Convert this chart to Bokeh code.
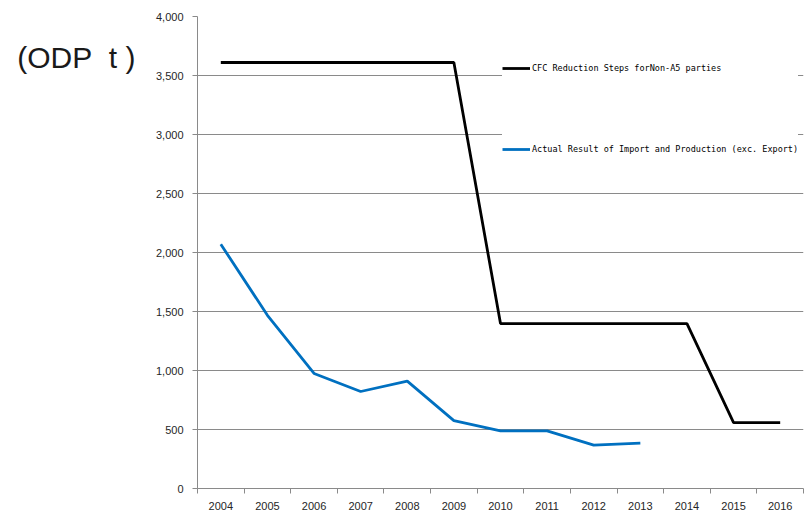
from bokeh.plotting import figure
from bokeh.models import FixedTicker, NumeralTickFormatter, Legend, LegendItem, Range1d, LinearAxis
from bokeh.embed import file_html
from bokeh.resources import INLINE

years = [2004, 2005, 2006, 2007, 2008, 2009, 2010, 2011, 2012, 2013, 2014, 2015, 2016]
cfc_steps = [3610, 3610, 3610, 3610, 3610, 3610, 1398, 1398, 1398, 1398, 1398, 559, 559]
actual_years = [2004, 2005, 2006, 2007, 2008, 2009, 2010, 2011, 2012, 2013]
actual = [2070, 1468, 975, 822, 910, 575, 488, 488, 368, 385]
y_ticks = [0, 500, 1000, 1500, 2000, 2500, 3000, 3500, 4000]
year_bounds = [2003.5, 2004.5, 2005.5, 2006.5, 2007.5, 2008.5, 2009.5, 2010.5,
               2011.5, 2012.5, 2013.5, 2014.5, 2015.5, 2016.5]
unit_text = "(ODP\u00a0\u00a0t\u00a0)"
UNIT_LEVEL = 3650  # vertical placement of the unit caption

p = figure(frame_width=606, frame_height=472, output_backend="svg", toolbar_location=None,
           x_range=Range1d(2003.5, 2016.5), y_range=Range1d(0, 4000),
           min_border_left=197, min_border_right=2, min_border_top=16, min_border_bottom=25)
p.outline_line_color = None
p.background_fill_color = "white"
p.border_fill_color = "white"

grey = "#8a8a8a"
r1 = p.line(years, cfc_steps, line_color="black", line_width=2.8)
r2 = p.line(actual_years, actual, line_color="#0070C0", line_width=2.8)

p.xgrid.visible = False
p.ygrid.grid_line_color = grey
p.ygrid.grid_line_width = 1
p.ygrid.ticker = FixedTicker(ticks=y_ticks)

yax = p.yaxis[0]
yax.ticker = FixedTicker(ticks=y_ticks)
yax.formatter = NumeralTickFormatter(format="0,0")
yax.axis_line_color = grey
yax.major_tick_line_color = grey
yax.major_tick_out = 5
yax.major_tick_in = 0
yax.minor_tick_line_color = None
yax.major_label_text_font = "Liberation Sans"
yax.major_label_text_font_size = "11px"
yax.major_label_text_color = "#262626"
yax.major_label_standoff = 9

unit_axis = LinearAxis(ticker=FixedTicker(ticks=[UNIT_LEVEL]),
                       major_label_overrides={UNIT_LEVEL: unit_text},
                       axis_line_color=None, major_tick_line_color=None,
                       minor_tick_line_color=None, major_tick_out=0, major_tick_in=0,
                       minor_tick_out=0, minor_tick_in=0,
                       major_label_text_font="Liberation Sans",
                       major_label_text_font_size="30px",
                       major_label_text_color="#1a1a1a",
                       major_label_standoff=17)
p.add_layout(unit_axis, "left")

xax = p.xaxis[0]
xax.ticker = FixedTicker(ticks=years, minor_ticks=year_bounds)
xax.axis_line_color = grey
xax.major_tick_out = 0
xax.major_tick_in = 0
xax.major_tick_line_color = None
xax.minor_tick_line_color = grey
xax.minor_tick_out = 5
xax.minor_tick_in = 0
xax.major_label_text_font = "Liberation Sans"
xax.major_label_text_font_size = "11px"
xax.major_label_text_color = "#262626"
xax.major_label_standoff = 8

legend = Legend(items=[
    LegendItem(label="CFC Reduction Steps forNon-A5 parties", renderers=[r1]),
    LegendItem(label="Actual Result of Import and Production (exc. Export)", renderers=[r2]),
], location=(305, 334), glyph_width=28, glyph_height=10, label_height=10,
    label_standoff=2, spacing=71, padding=11, margin=0,
    border_line_color=None, background_fill_color="white", background_fill_alpha=1,
    label_text_font="DejaVu Sans Mono", label_text_font_size="8.5px", label_text_color="black")
p.add_layout(legend)

open("out.html", "w").write(file_html(p, INLINE))
